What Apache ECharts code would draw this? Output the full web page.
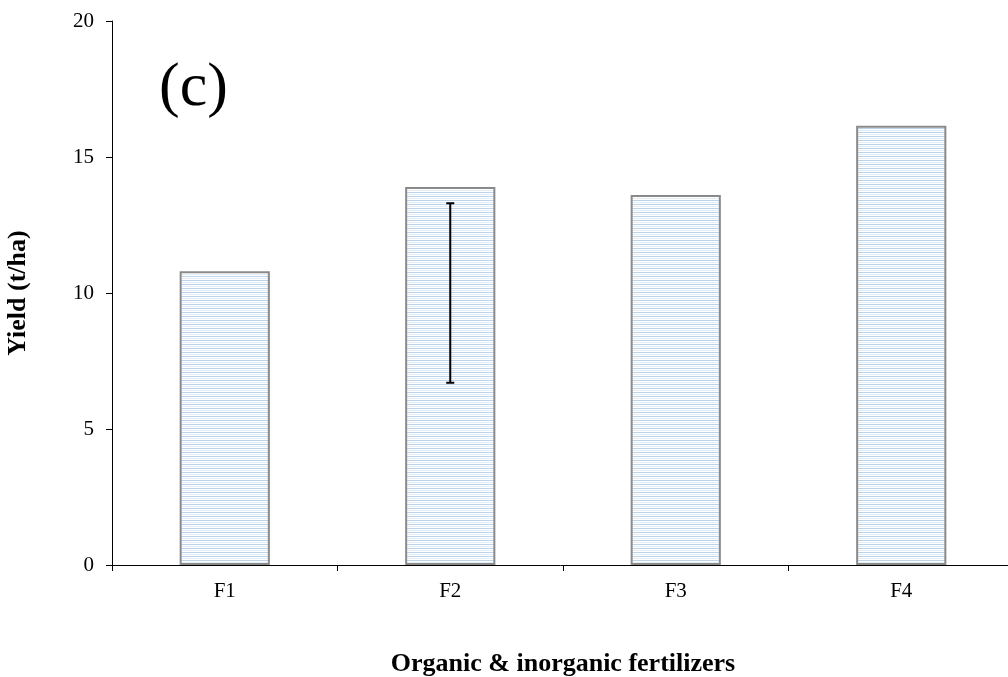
<!DOCTYPE html>
<html>
<head>
<meta charset="utf-8">
<script src="https://cdn.jsdelivr.net/npm/echarts@6/dist/echarts.min.js"></script>
<style>
  html, body { margin: 0; padding: 0; background: #fff; }
  #chart { width: 1008px; height: 677px; }
</style>
</head>
<body>
<div id="chart"></div>
<script>
var categories = ['F1', 'F2', 'F3', 'F4'];
var yieldValues = [10.8, 13.9, 13.6, 16.15];
// error bar only drawn for F2
var errLow = [null, 6.7, null, null];
var errHigh = [null, 13.3, null, null];

// striped fill: thin light-blue horizontal lines
function stripePattern() {
  var c = document.createElement('canvas');
  c.width = 8;
  c.height = 4;
  var ctx = c.getContext('2d');
  ctx.fillStyle = '#ffffff';
  ctx.fillRect(0, 0, 8, 4);
  ctx.fillStyle = '#bcd3ec';
  ctx.fillRect(0, 0, 8, 1);
  ctx.fillStyle = '#e3edf8';
  ctx.fillRect(0, 2, 8, 1);
  return c;
}

var serif = '"Liberation Serif", "DejaVu Serif", serif';

var errData = [];
for (var i = 0; i < categories.length; i++) {
  if (errLow[i] != null) errData.push([i, errLow[i], errHigh[i]]);
}

var chart = echarts.init(document.getElementById('chart'));
chart.setOption({
  animation: false,
  grid: { left: 112, right: -6, top: 21, bottom: 112, outerBoundsMode: 'none', containLabel: false },
  xAxis: {
    type: 'category',
    data: categories,
    axisLine: { lineStyle: { color: '#000', width: 1 } },
    axisTick: { show: true, length: 6, lineStyle: { color: '#000' } },
    axisLabel: { color: '#000', fontFamily: serif, fontSize: 21, margin: 16 },
    name: 'Organic & inorganic fertilizers',
    nameLocation: 'middle',
    nameGap: 86,
    nameTextStyle: { color: '#000', fontFamily: serif, fontSize: 26, fontWeight: 'bold' }
  },
  yAxis: {
    type: 'value',
    min: 0,
    max: 20,
    interval: 5,
    splitLine: { show: false },
    axisLine: { show: true, lineStyle: { color: '#000', width: 1 } },
    axisTick: { show: true, length: 6, lineStyle: { color: '#000' } },
    axisLabel: { color: '#000', fontFamily: serif, fontSize: 21, margin: 18 },
    name: 'Yield (t/ha)',
    nameLocation: 'middle',
    nameGap: 81,
    nameTextStyle: { color: '#000', fontFamily: serif, fontSize: 26, fontWeight: 'bold' }
  },
  graphic: [{
    type: 'text',
    left: 159,
    top: 58,
    style: { text: '(c)', font: '62px ' + serif, fill: '#000' }
  }],
  series: [{
    type: 'bar',
    data: yieldValues,
    barWidth: '40%',
    itemStyle: {
      color: { image: stripePattern(), repeat: 'repeat' },
      borderColor: '#8a8a8a',
      borderWidth: 2
    }
  }, {
    type: 'custom',
    data: errData,
    renderItem: function (params, api) {
      var x = api.coord([api.value(0), api.value(1)])[0];
      var lo = api.coord([api.value(0), api.value(1)])[1];
      var hi = api.coord([api.value(0), api.value(2)])[1];
      var cap = 4;
      var st = { stroke: '#000', lineWidth: 2 };
      return {
        type: 'group',
        children: [
          { type: 'line', shape: { x1: x, y1: lo, x2: x, y2: hi }, style: st },
          { type: 'line', shape: { x1: x - cap, y1: lo, x2: x + cap, y2: lo }, style: st },
          { type: 'line', shape: { x1: x - cap, y1: hi, x2: x + cap, y2: hi }, style: st }
        ]
      };
    },
    z: 10
  }]
});
</script>
</body>
</html>
